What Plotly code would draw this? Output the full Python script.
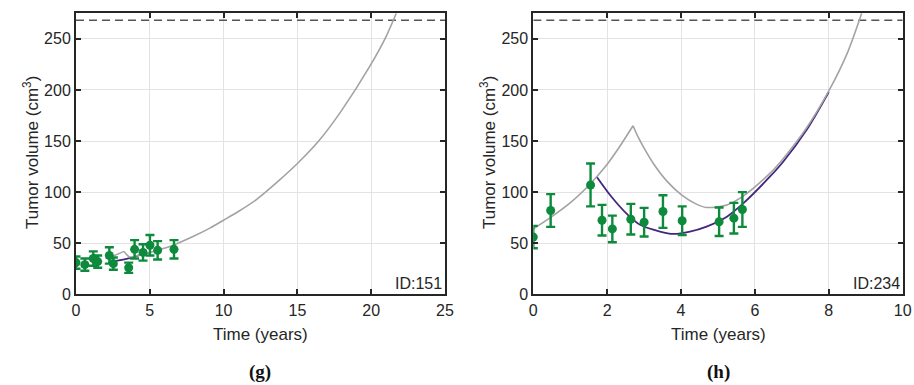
import plotly.graph_objects as go

# ---------------- data: panel (g), ID 151 ----------------
g_time = [0.0, 0.6, 1.17, 1.47, 2.26, 2.53, 3.57, 3.97, 4.54, 5.01, 5.53, 6.64]
g_vol = [31, 29, 35, 32, 38, 30, 26, 44, 41, 48, 43, 44]
g_err = [6, 6, 7, 6, 8, 6, 5, 9, 8, 10, 9, 9]

# model curve (gray), split at the treatment cusp
g_gray_rise_t = [2.0, 2.6, 3.25]
g_gray_rise_v = [35, 38, 42]
g_gray_t = [3.25, 3.45, 3.65, 4.3, 5.0, 6.4, 8.0, 9.1, 10.0, 11.0, 12.2,
            13.8, 15.0, 16.5, 18.0, 19.9, 21.0, 21.7]
g_gray_v = [42, 38.5, 36.5, 38.5, 41, 47, 57, 65, 72.5, 81, 92.5,
            112, 128, 151, 180, 223, 252, 275]
g_purple_t = [2.5, 3.0, 3.5, 3.8, 4.3, 5.0]
g_purple_v = [32.5, 33.5, 35, 36, 38.3, 40.8]

# ---------------- data: panel (h), ID 234 ----------------
h_time = [0.0, 0.47, 1.55, 1.86, 2.14, 2.64, 3.0, 3.51, 4.03, 5.03, 5.43, 5.66]
h_vol = [56, 82, 107, 72.5, 64, 73.5, 70.6, 81, 72, 71, 74.5, 83]
h_err = [11, 16, 21, 15, 13, 15, 14, 16, 14, 14, 15, 17]

h_gray_rise_t = [0.0, 0.46, 1.03, 1.54, 1.93, 2.29, 2.70]
h_gray_rise_v = [64, 75, 90.5, 108, 124, 142, 165]
h_gray_t = [2.70, 2.85, 3.0, 3.25, 3.61, 4.02, 4.4, 4.69, 5.24, 5.69, 6.41,
            6.77, 7.4, 8.0, 8.5, 8.89]
h_gray_v = [165, 153, 143, 128, 111, 97, 88.5, 85, 87.5, 96.4, 118.6,
            133, 163, 199, 236, 275]
h_purple_t = [1.71, 2.11, 2.56, 2.89, 3.43, 3.79, 4.24, 4.69, 5.24, 5.69, 6.41,
              6.77, 7.4, 8.0]
h_purple_v = [115.3, 95.7, 77.7, 68, 61.4, 59.1, 61.4, 66.3, 76, 89.2, 115.3,
              130, 161, 198]

limit_volume = 268.08
y_ticks = [0, 50, 100, 150, 200, 250]
g_x_ticks = [0, 5, 10, 15, 20, 25]
h_x_ticks = [0, 2, 4, 6, 8, 10]
g_xrange = [0, 25]
h_xrange = [0, 10]
y_range = [0, 275]

GREEN = "#0d8a3c"
PURPLE = "#45267f"
GRAY = "#a3a3a3"
AX = "#262626"
FONT = "Liberation Sans, Arial, sans-serif"
SERIF = "Liberation Serif, Times New Roman, serif"

fig = go.Figure()


def add_panel(xa, t, v, e, rt, rv, gt, gv, pt, pv, xr):
    xs = "x" if xa == 1 else f"x{xa}"
    ys = "y" if xa == 1 else f"y{xa}"
    fig.add_trace(go.Scatter(x=xr, y=[limit_volume, limit_volume], mode="lines",
                             line=dict(color="#555555", width=1.5, dash="8px,5px"),
                             xaxis=xs, yaxis=ys, showlegend=False, hoverinfo="skip"))
    fig.add_trace(go.Scatter(x=pt, y=pv, mode="lines",
                             line=dict(color=PURPLE, width=1.8, shape="spline", smoothing=0.8),
                             xaxis=xs, yaxis=ys, showlegend=False))
    for tx, vx in ((rt, rv), (gt, gv)):
        fig.add_trace(go.Scatter(x=tx, y=vx, mode="lines",
                                 line=dict(color=GRAY, width=1.6, shape="spline", smoothing=0.8),
                                 xaxis=xs, yaxis=ys, showlegend=False))
    fig.add_trace(go.Scatter(x=t, y=v, mode="markers",
                             marker=dict(color=GREEN, size=9),
                             error_y=dict(type="data", array=e, color=GREEN, thickness=2.4, width=4.5),
                             xaxis=xs, yaxis=ys, showlegend=False))


add_panel(1, g_time, g_vol, g_err, g_gray_rise_t, g_gray_rise_v, g_gray_t, g_gray_v,
          g_purple_t, g_purple_v, g_xrange)
add_panel(2, h_time, h_vol, h_err, h_gray_rise_t, h_gray_rise_v, h_gray_t, h_gray_v,
          h_purple_t, h_purple_v, h_xrange)

# the body margin is removed by a small post script, so figure coords == page coords
W, H = 914, 385


def px_x(page_x):
    return page_x / W


def px_y(page_y):
    return (H - page_y) / H


ydom = [px_y(294.3), px_y(13.3)]

common_axis = dict(showline=True, linecolor=AX, linewidth=2, mirror="ticks",
                   ticks="inside", ticklen=5, tickwidth=2, tickcolor=AX,
                   showgrid=True, gridcolor="#e3e3e3", gridwidth=1, zeroline=False,
                   automargin=False,
                   tickfont=dict(family=FONT, size=16, color=AX))
title_font = dict(family=FONT, size=17, color=AX)


def text_ann(text, x, y, angle=0, font=title_font):
    return dict(text=text, xref="paper", yref="paper", x=px_x(x), y=px_y(y),
                xanchor="center", yanchor="middle", textangle=angle,
                showarrow=False, font=font)


fig.update_layout(
    width=W, height=H,
    margin=dict(l=0, r=0, t=0, b=0, autoexpand=False),
    paper_bgcolor="white", plot_bgcolor="white",
    font=dict(family=FONT, color=AX),
    xaxis=dict(domain=[px_x(76), px_x(445)], range=g_xrange, tickvals=g_x_ticks, anchor="y",
               **common_axis),
    yaxis=dict(domain=ydom, range=y_range, tickvals=y_ticks, anchor="x",
               **common_axis),
    xaxis2=dict(domain=[px_x(533.3), px_x(902.7)], range=h_xrange, tickvals=h_x_ticks, anchor="y2",
                **common_axis),
    yaxis2=dict(domain=ydom, range=y_range, tickvals=y_ticks, anchor="x2",
                **common_axis),
    annotations=[
        text_ann("Time (years)", 260.5, 334),
        text_ann("Time (years)", 718, 334),
        text_ann("Tumor volume (cm<sup>3</sup>)", 31, 153, angle=-90),
        text_ann("Tumor volume (cm<sup>3</sup>)", 488, 153, angle=-90),
        dict(text="ID:151", xref="x domain", yref="y domain", x=0.997, y=0.0,
             xanchor="right", yanchor="bottom", showarrow=False,
             font=dict(family=FONT, size=16, color=AX)),
        dict(text="ID:234", xref="x2 domain", yref="y2 domain", x=0.997, y=0.0,
             xanchor="right", yanchor="bottom", showarrow=False,
             font=dict(family=FONT, size=16, color=AX)),
        text_ann("<b>(g)</b>", 260, 372, font=dict(family=SERIF, size=19, color="#111")),
        text_ann("<b>(h)</b>", 718, 372, font=dict(family=SERIF, size=19, color="#111")),
    ],
)

fig.write_html("out.html",
               config={"displayModeBar": False},
               post_script="document.body.style.margin='0';document.body.style.overflow='hidden';")
